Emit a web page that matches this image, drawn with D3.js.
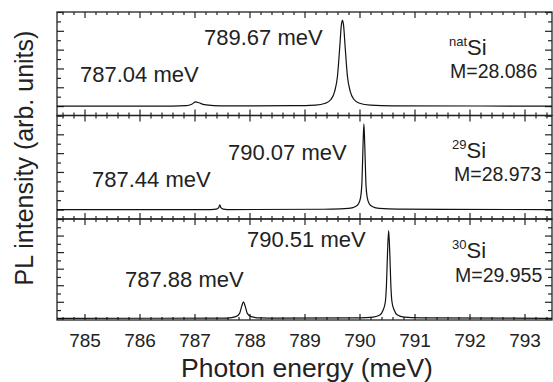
<!DOCTYPE html>
<html>
<head>
<meta charset="utf-8">
<script src="https://cdn.jsdelivr.net/npm/d3@7"></script>
<style>
  body { margin: 0; background: #fff; }
  svg { display: block; font-family: "Liberation Sans", Arial, sans-serif; }
</style>
</head>
<body>
<svg id="chart" width="553" height="382"></svg>
<script>
// spectra: photon energy (meV) and PL intensity (arb. units)
const natE = [784.5, 786.6, 786.85, 786.95, 787.02, 787.08, 787.18, 787.35, 787.6, 788.8, 789.2, 789.38, 789.48, 789.55, 789.6, 789.64, 789.67, 789.69, 789.71, 789.74, 789.78, 789.83, 789.9, 790.0, 790.2, 790.6, 793.5];
const natI = [0, 0, 0.005, 0.02, 0.045, 0.035, 0.015, 0.005, 0.002, 0.004, 0.01, 0.03, 0.07, 0.16, 0.32, 0.62, 0.86, 0.91, 0.86, 0.62, 0.32, 0.16, 0.07, 0.03, 0.01, 0.003, 0];

const si29E = [784.5, 787.3, 787.4, 787.44, 787.46, 787.48, 787.52, 787.6, 789.5, 789.8, 789.92, 789.98, 790.02, 790.045, 790.065, 790.08, 790.095, 790.115, 790.14, 790.18, 790.24, 790.36, 790.7, 793.5];
const si29I = [0, 0, 0.005, 0.02, 0.05, 0.02, 0.005, 0, 0.004, 0.012, 0.03, 0.06, 0.13, 0.3, 0.7, 0.91, 0.7, 0.3, 0.13, 0.06, 0.03, 0.012, 0.004, 0];

const si30E = [784.5, 787.6, 787.75, 787.82, 787.86, 787.89, 787.92, 787.96, 788.03, 788.2, 788.5, 790.0, 790.25, 790.37, 790.43, 790.47, 790.49, 790.51, 790.53, 790.55, 790.57, 790.59, 790.63, 790.69, 790.81, 791.1, 793.5];
const si30I = [0, 0.003, 0.02, 0.06, 0.15, 0.2, 0.15, 0.06, 0.02, 0.005, 0.002, 0.005, 0.015, 0.04, 0.1, 0.2, 0.4, 0.8, 1.06, 0.8, 0.4, 0.2, 0.1, 0.04, 0.015, 0.005, 0];

const xTicks = [785, 786, 787, 788, 789, 790, 791, 792, 793];
const peakLabels = [["787.04 meV", "789.67 meV"], ["787.44 meV", "790.07 meV"], ["787.88 meV", "790.51 meV"]];
const isoSup = ["nat", "29", "30"];
const massLabels = ["M=28.086", "M=28.973", "M=29.955"];

const svg = d3.select("#chart");
const left = 57, right = 552;
const panelTops = [12, 115.5, 219, 320];

const x = d3.scaleLinear().domain([784.5, 793.5]).range([left, right]);

const panels = [
  { E: natE, I: natI, dom: [-0.1, 1.0], lab: [[80, 82], [204, 45]], iso: [449, 55], m: [450, 78] },
  { E: si29E, I: si29I, dom: [-0.1, 1.0], lab: [[92, 187], [228, 160]], iso: [452, 158], m: [454, 181] },
  { E: si30E, I: si30I, dom: [-0.02, 1.2], lab: [[125, 287], [247, 247]], iso: [452, 258], m: [455, 282] }
];

const minorX = d3.range(3923, 3968).filter(i => i % 5 !== 0).map(i => i / 5);
const ink = "#222";

panels.forEach((p, k) => {
  const top = panelTops[k], bottom = panelTops[k + 1];
  const y = d3.scaleLinear().domain(p.dom).range([bottom, top]);
  const g = svg.append("g");

  // y ticks every 0.1, longer every 0.2
  const yAll = d3.range(Math.ceil(p.dom[0] * 10 - 1e-9), Math.floor(p.dom[1] * 10 + 1e-9) + 1);
  const yMajor = yAll.filter(i => i % 2 === 0).map(i => i / 10);
  const yMinor = yAll.filter(i => i % 2 !== 0).map(i => i / 10);

  const axes = [
    [d3.axisLeft(y).tickValues(yMajor).tickSize(-7), `translate(${left},0)`],
    [d3.axisLeft(y).tickValues(yMinor).tickSize(-4), `translate(${left},0)`],
    [d3.axisRight(y).tickValues(yMajor).tickSize(-7), `translate(${right},0)`],
    [d3.axisRight(y).tickValues(yMinor).tickSize(-4), `translate(${right},0)`],
    [d3.axisTop(x).tickValues(xTicks).tickSize(-6), `translate(0,${top})`],
    [d3.axisTop(x).tickValues(minorX).tickSize(-3), `translate(0,${top})`],
    [d3.axisBottom(x).tickValues(xTicks).tickSize(-6), `translate(0,${bottom})`],
    [d3.axisBottom(x).tickValues(minorX).tickSize(-3), `translate(0,${bottom})`]
  ];
  axes.forEach(([ax, tr]) => {
    const a = g.append("g").attr("transform", tr).call(ax.tickFormat(""));
    a.select(".domain").remove();
    a.selectAll("line").attr("stroke", ink).attr("stroke-width", 1.2);
  });

  if (k === 2) {
    g.append("g")
      .attr("transform", `translate(0,${bottom})`)
      .call(d3.axisBottom(x).tickValues(xTicks).tickSize(0).tickPadding(14).tickFormat(d3.format("d")))
      .call(a => a.select(".domain").remove())
      .selectAll("text")
      .attr("font-size", 19)
      .attr("font-family", "Liberation Sans, Arial, sans-serif")
      .attr("fill", ink);
  }

  g.append("rect")
    .attr("x", left).attr("y", top)
    .attr("width", right - left).attr("height", bottom - top)
    .attr("fill", "none").attr("stroke", ink).attr("stroke-width", 1.3);

  const line = d3.line()
    .x((d, i) => x(p.E[i]))
    .y(d => y(d))
    .curve(d3.curveMonotoneX);

  g.append("path")
    .datum(p.I)
    .attr("fill", "none")
    .attr("stroke", "#111")
    .attr("stroke-width", 1.2)
    .attr("d", line);

  // peak labels
  peakLabels[k].forEach((t, j) => {
    g.append("text")
      .attr("x", p.lab[j][0]).attr("y", p.lab[j][1])
      .attr("font-size", 22).attr("fill", ink)
      .text(t);
  });

  const iso = g.append("text")
    .attr("x", p.iso[0]).attr("y", p.iso[1])
    .attr("fill", ink);
  iso.append("tspan").attr("font-size", 13).attr("dy", -9).text(isoSup[k]);
  iso.append("tspan").attr("font-size", 22).attr("dy", 9).text("Si");

  g.append("text")
    .attr("x", p.m[0]).attr("y", p.m[1])
    .attr("font-size", 19.5).attr("fill", ink)
    .text(massLabels[k]);
});

svg.append("text")
  .attr("x", 307).attr("y", 377)
  .attr("text-anchor", "middle")
  .attr("font-size", 26.5).attr("fill", ink)
  .text("Photon energy (meV)");

svg.append("text")
  .attr("transform", "translate(33,158) rotate(-90)")
  .attr("text-anchor", "middle")
  .attr("font-size", 25).attr("fill", ink)
  .text("PL intensity (arb. units)");
</script>
</body>
</html>
